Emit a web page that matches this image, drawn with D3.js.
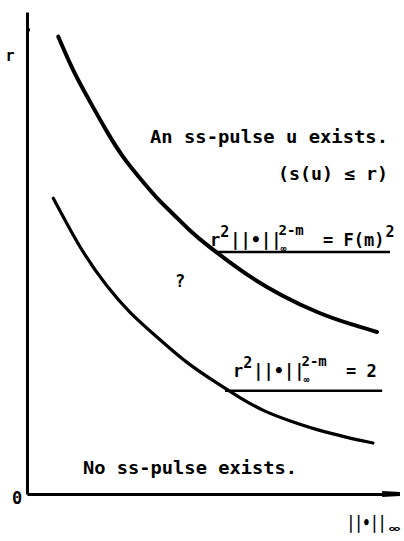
<!DOCTYPE html>
<html>
<head>
<meta charset="utf-8">
<script src="https://cdn.jsdelivr.net/npm/d3@7"></script>
<style>
  html, body { margin: 0; padding: 0; background: #fff; }
  svg { display: block; }
  text { font-family: "DejaVu Sans Mono", "Liberation Mono", monospace; font-weight: bold; fill: #000; }
</style>
</head>
<body>
<svg id="chart" width="404" height="541"></svg>
<script>
// Boundary curves in (||u||_inf, r) units, 0..100 on both axes
const upperX = [8.46, 12.51, 17.03, 21.54, 26.03, 30.54, 35.05, 39.54, 44.05, 48.57, 53.97, 60.27, 68.38, 79.19, 87.30, 94.59];
const upperY = [94.88, 87.61, 81.39, 75.17, 69.65, 65.50, 61.35, 58.09, 54.56, 51.66, 48.55, 45.02, 41.29, 37.34, 35.27, 33.61];
const lowerX = [7.11, 10.73, 15.22, 21.54, 27.84, 35.05, 43.16, 51.27, 57.57, 64.32, 71.08, 78.38, 85.95, 93.51];
const lowerY = [61.35, 56.16, 49.94, 43.01, 37.49, 32.63, 27.12, 23.03, 19.92, 17.01, 15.15, 13.28, 11.83, 10.58];

// Leader lines under the two curve equations: [x0, x1, y]
const upperLeader = [50.8, 98.1, 50.2];
const lowerLeader = [53.5, 96.0, 21.4];

const xDomain = [0, 100];
const yDomain = [0, 100];

const svg = d3.select("#chart");
const x = d3.scaleLinear().domain(xDomain).range([27, 397]);
const y = d3.scaleLinear().domain(yDomain).range([494, 12]);

// Axes: plain lines with no tick labels
const yAxis = svg.append("g").attr("transform", "translate(27,0)")
  .call(d3.axisLeft(y).tickValues([]).tickSizeOuter(0));
yAxis.select(".domain").attr("stroke", "#000").attr("stroke-width", 3);

const xAxis = svg.append("g").attr("transform", "translate(0,494)")
  .call(d3.axisBottom(x).tickValues([]).tickSizeOuter(0));
xAxis.select(".domain").attr("stroke", "#000").attr("stroke-width", 3);

// thickened arrow end of the horizontal axis
svg.append("path")
  .attr("d", `M${x(96)},${y(0) - 3}L${x(100) + 3},${y(0) - 2}L${x(100) + 3},${y(0) + 2}L${x(96)},${y(0) + 3}Z`)
  .attr("fill", "#000");

// small mark near the top of the vertical axis
svg.append("line")
  .attr("x1", x(0)).attr("x2", x(0) + 3)
  .attr("y1", y(96.3)).attr("y2", y(96.3))
  .attr("stroke", "#000").attr("stroke-width", 3);

const line = d3.line()
  .x(d => x(d[0]))
  .y(d => y(d[1]))
  .curve(d3.curveBasis);

svg.append("path")
  .datum(d3.zip(upperX, upperY))
  .attr("d", line)
  .attr("fill", "none")
  .attr("stroke", "#000")
  .attr("stroke-width", 4)
  .attr("stroke-linecap", "round");

svg.append("path")
  .datum(d3.zip(lowerX, lowerY))
  .attr("d", line)
  .attr("fill", "none")
  .attr("stroke", "#000")
  .attr("stroke-width", 3.2)
  .attr("stroke-linecap", "round");

[upperLeader, lowerLeader].forEach(l => {
  svg.append("line")
    .attr("x1", x(l[0])).attr("x2", x(l[1]))
    .attr("y1", y(l[2])).attr("y2", y(l[2]))
    .attr("stroke", "#000").attr("stroke-width", 2.5);
});

// Axis labels
svg.append("text").attr("x", 10).attr("y", 61).attr("text-anchor", "middle")
  .attr("font-size", 15).text("r");
svg.append("text").attr("x", 17).attr("y", 504).attr("text-anchor", "middle")
  .attr("font-size", 17).text("0");

const xl = svg.append("text").attr("x", 347).attr("y", 529).attr("font-size", 18);
xl.append("tspan").attr("textLength", 39).attr("lengthAdjust", "spacingAndGlyphs").text("||•||");
xl.append("tspan").attr("font-size", 10).attr("dy", 3).attr("dx", 3)
  .attr("textLength", 11).attr("lengthAdjust", "spacingAndGlyphs").text("∞");

// Region labels
svg.append("text").attr("x", 150).attr("y", 143).attr("font-size", 17)
  .attr("textLength", 238).attr("lengthAdjust", "spacingAndGlyphs")
  .text("An ss-pulse u exists.");
svg.append("text").attr("x", 278).attr("y", 180).attr("font-size", 17)
  .attr("textLength", 110).attr("lengthAdjust", "spacingAndGlyphs")
  .text("(s(u) ≤ r)");
svg.append("text").attr("x", 180).attr("y", 287).attr("text-anchor", "middle")
  .attr("font-size", 17).text("?");
svg.append("text").attr("x", 83).attr("y", 474).attr("font-size", 17)
  .attr("textLength", 214).attr("lengthAdjust", "spacingAndGlyphs")
  .text("No ss-pulse exists.");

// Curve equations
function equation(x0, base, rhs, rhsSup) {
  const t = svg.append("text").attr("x", x0).attr("y", base).attr("font-size", 17);
  t.append("tspan").text("r");
  t.append("tspan").attr("dy", -9).attr("font-size", 15).text("2");
  t.append("tspan").attr("dy", 9).attr("dx", 1).text("||•||");
  t.append("tspan").attr("dy", 6).attr("font-size", 10).attr("dx", -1).text("∞");
  t.append("tspan").attr("dy", -17).attr("dx", -8).attr("font-size", 14).text("2-m");
  t.append("tspan").attr("dy", 11).attr("dx", 9).text(" = " + rhs);
  if (rhsSup) t.append("tspan").attr("dy", -9).attr("dx", 1).attr("font-size", 15).text(rhsSup);
}
equation(210, 246, "F(m)", "2");
equation(233, 377, "2", null);
</script>
</body>
</html>
